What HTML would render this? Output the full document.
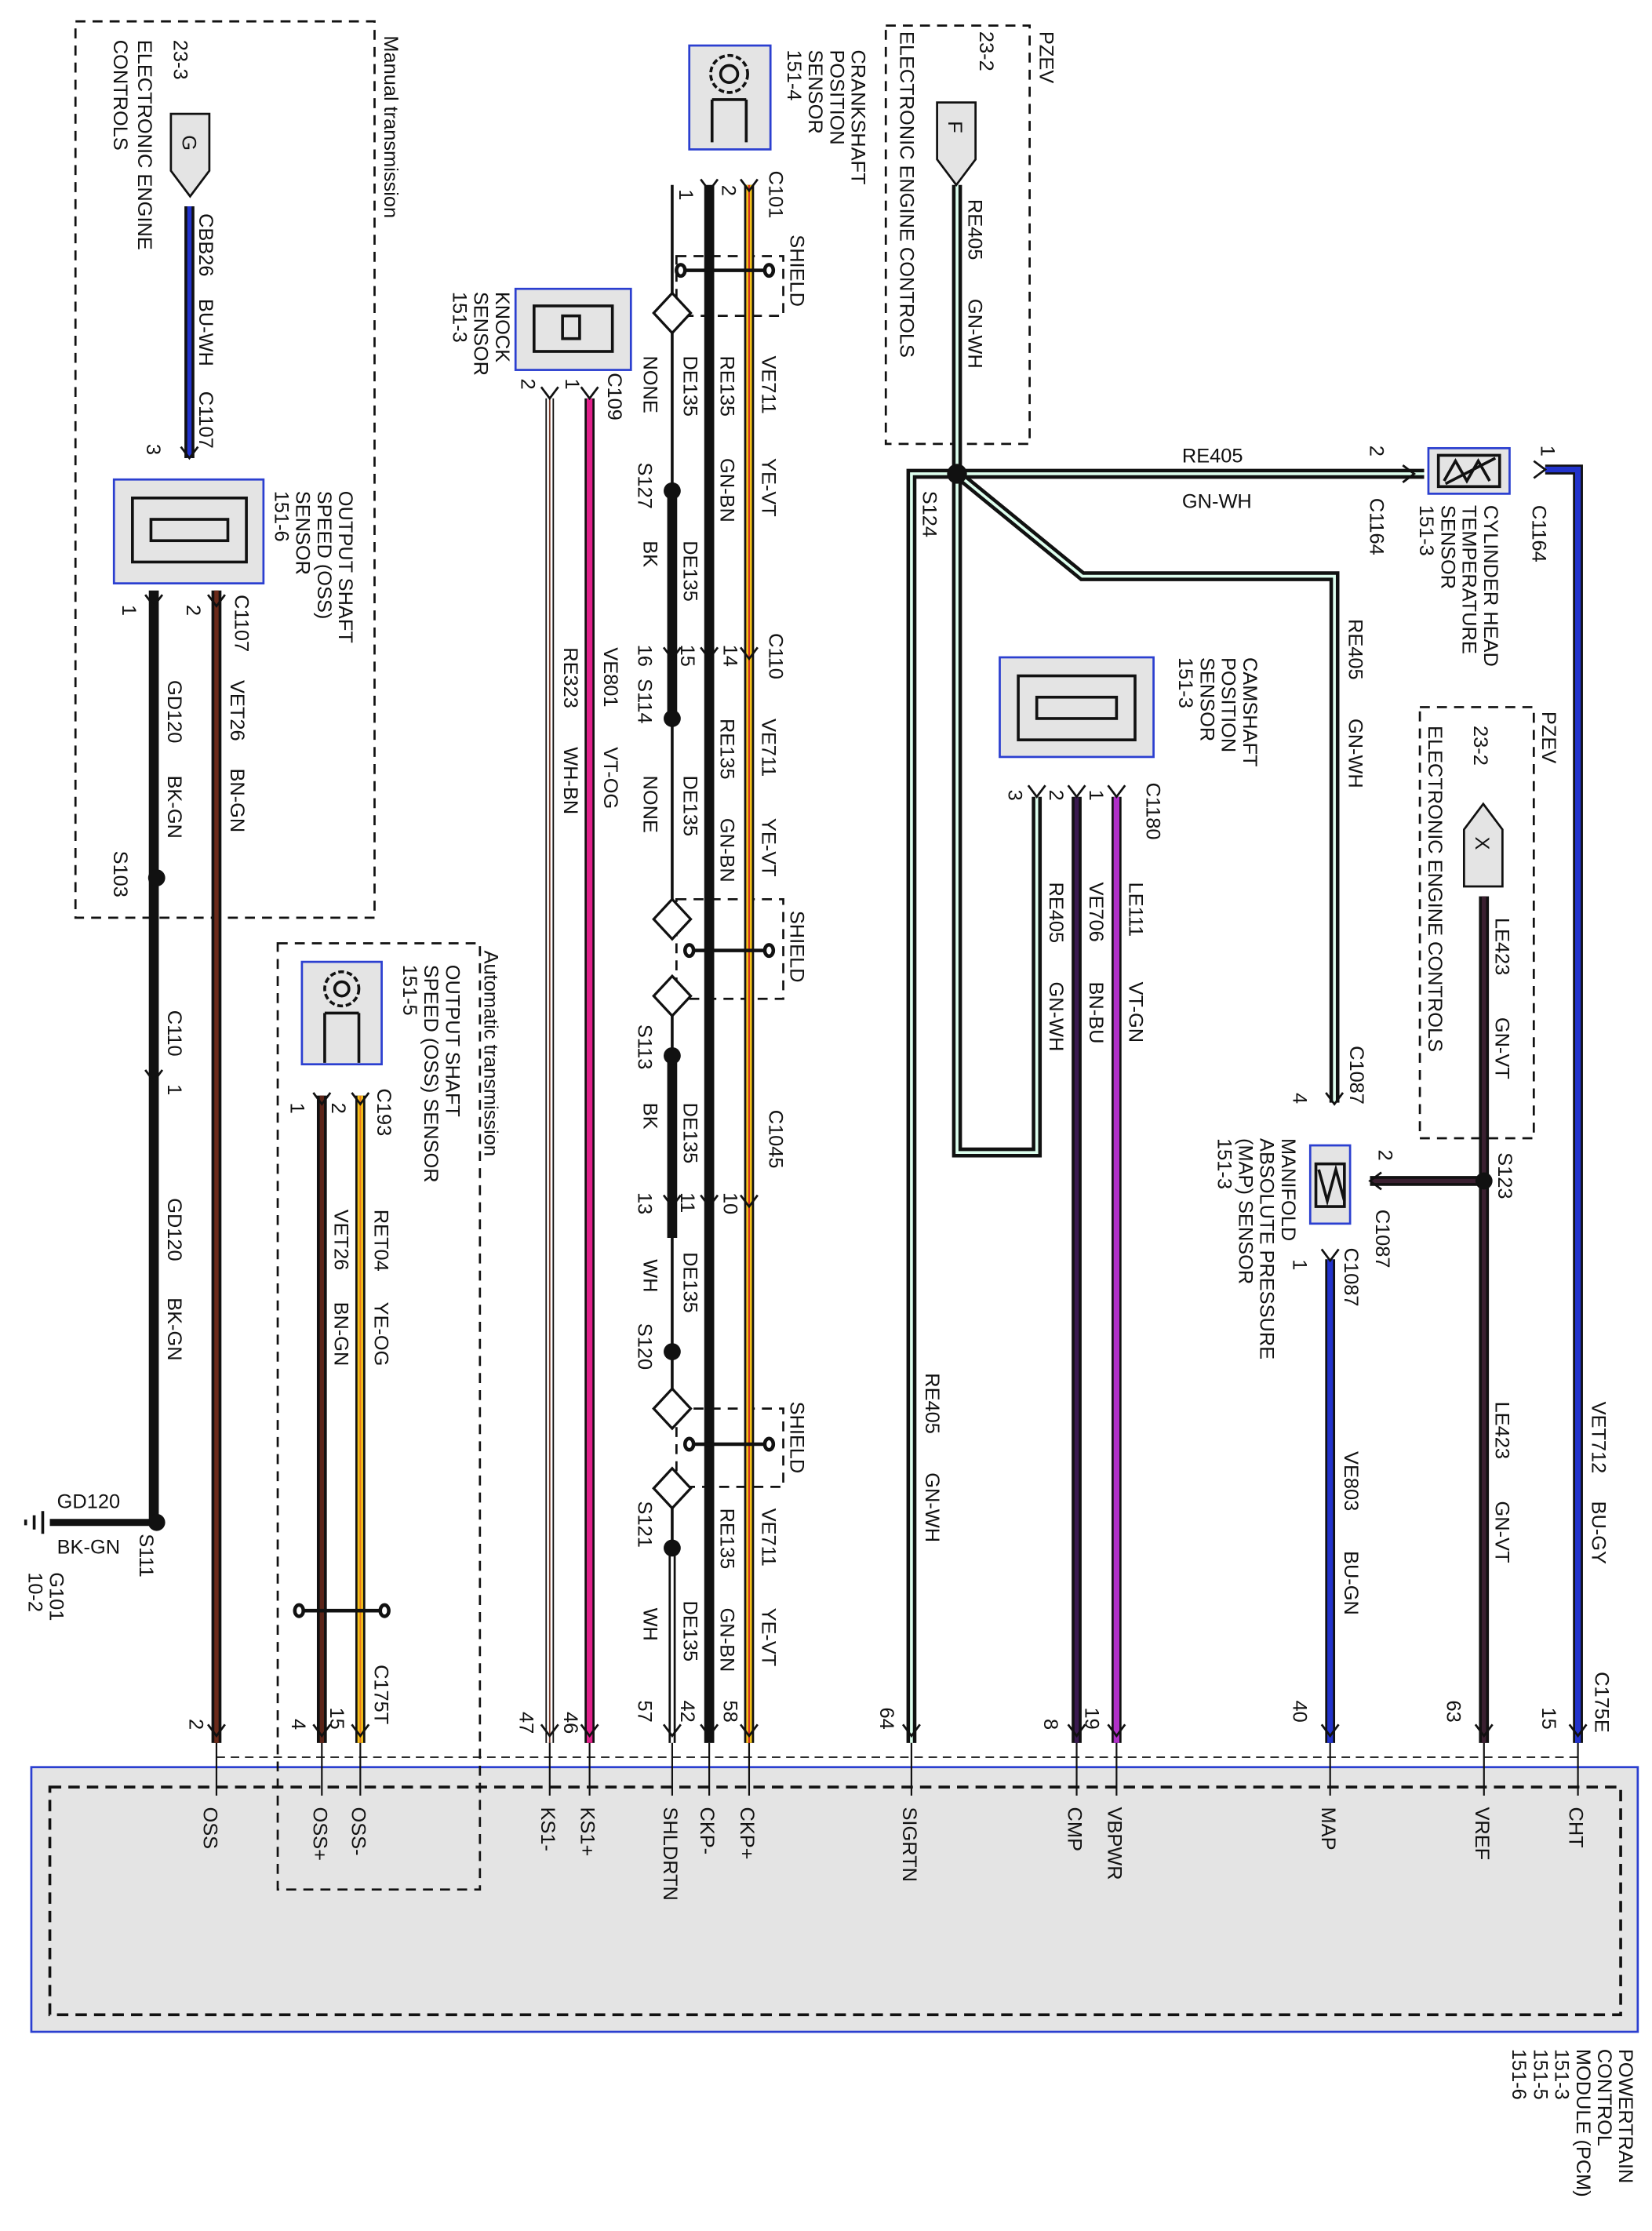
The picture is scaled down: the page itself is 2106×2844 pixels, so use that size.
<!DOCTYPE html>
<html><head><meta charset="utf-8"><style>
html,body{margin:0;padding:0;background:#fff}
svg{display:block}
text{font-family:"Liberation Sans Narrow","Liberation Sans",sans-serif;font-size:14px;fill:#111}
</style></head><body>
<svg width="2106" height="2844" viewBox="0 0 1160 1568" preserveAspectRatio="none" xmlns="http://www.w3.org/2000/svg">
<rect width="1160" height="1568" fill="#fff"/>
<rect x="22" y="1242" width="1128" height="186" fill="#e4e4e4" stroke="#2b3fd0" stroke-width="1.5"/>
<rect x="35" y="1256" width="1103" height="160" fill="none" stroke="#111" stroke-width="2" stroke-dasharray="8,5"/>
<line x1="152" y1="1235" x2="1108" y2="1235" stroke="#111" stroke-width="1" stroke-dasharray="6,4"/>
<g fill="none" stroke="#111" stroke-width="1.5" stroke-dasharray="7,5">
<rect x="53" y="15" width="210" height="630"/>
<rect x="195" y="663" width="142" height="665"/>
<rect x="622" y="18" width="101" height="294"/>
<rect x="997" y="497" width="80" height="303"/>
<rect x="475" y="180" width="75" height="42"/>
<rect x="475" y="632" width="75" height="70"/>
<rect x="475" y="990" width="75" height="55"/>
</g>
<g fill="none" stroke-linejoin="miter">
<g stroke="#111" stroke-width="7">
<line x1="133" y1="145" x2="133" y2="322"/>
<line x1="152" y1="415" x2="152" y2="1225"/>
<line x1="226" y1="770" x2="226" y2="1225"/>
<line x1="253" y1="770" x2="253" y2="1225"/>
<line x1="414" y1="280" x2="414" y2="1225"/>
<line x1="498" y1="130" x2="498" y2="1225"/>
<line x1="526" y1="130" x2="526" y2="1225"/>
<polyline points="672,130 672,333 1000,333"/>
<polyline points="672,333 640,333 640,1225"/>
<polyline points="672,333 672,810 728,810 728,560"/>
<polyline points="672,333 760,405 937,405 937,775"/>
<line x1="756" y1="560" x2="756" y2="1225"/>
<line x1="784" y1="560" x2="784" y2="1225"/>
<line x1="934" y1="885" x2="934" y2="1225"/>
<line x1="1042" y1="630" x2="1042" y2="1225"/>
<polyline points="1085,330 1108,330 1108,1225"/>
<line x1="962" y1="830" x2="1042" y2="830"/>
</g>
<line x1="133" y1="145" x2="133" y2="322" stroke="#2233cc" stroke-width="3"/>
<line x1="152" y1="415" x2="152" y2="1225" stroke="#6b2a1a" stroke-width="3"/>
<line x1="226" y1="770" x2="226" y2="1225" stroke="#5a2418" stroke-width="3"/>
<line x1="253" y1="770" x2="253" y2="1225" stroke="#f2c21b" stroke-width="4"/>
<line x1="253" y1="770" x2="253" y2="1225" stroke="#e8761a" stroke-width="1"/>
<line x1="386" y1="280" x2="386" y2="1225" stroke="#111" stroke-width="6"/>
<line x1="386" y1="280" x2="386" y2="1225" stroke="#fff" stroke-width="4"/>
<line x1="386" y1="280" x2="386" y2="1225" stroke="#7a3a2a" stroke-width="1"/>
<line x1="414" y1="280" x2="414" y2="1225" stroke="#e0208a" stroke-width="4"/>
<line x1="526" y1="130" x2="526" y2="1225" stroke="#f2c21b" stroke-width="4"/>
<line x1="526" y1="130" x2="526" y2="1225" stroke="#d02020" stroke-width="1"/>
<g stroke="#dfe" stroke-width="2">
<polyline points="672,130 672,333 1000,333"/>
<polyline points="672,333 640,333 640,1225"/>
<polyline points="672,333 672,810 728,810 728,560"/>
<polyline points="672,333 760,405 937,405 937,775"/>
</g>
<line x1="756" y1="560" x2="756" y2="1225" stroke="#3a1a50" stroke-width="3"/>
<line x1="784" y1="560" x2="784" y2="1225" stroke="#b030c8" stroke-width="4"/>
<line x1="934" y1="885" x2="934" y2="1225" stroke="#2233cc" stroke-width="4"/>
<line x1="1042" y1="630" x2="1042" y2="1225" stroke="#3a2030" stroke-width="3"/>
<line x1="962" y1="830" x2="1042" y2="830" stroke="#3a2030" stroke-width="3"/>
<polyline points="1085,330 1108,330 1108,1225" stroke="#2233cc" stroke-width="4"/>
<line x1="108" y1="415" x2="108" y2="1070" stroke="#111" stroke-width="7"/>
<line x1="35" y1="1070" x2="108" y2="1070" stroke="#111" stroke-width="5"/>
<g stroke="#111">
<line x1="472" y1="130" x2="472" y2="208" stroke-width="2"/>
<line x1="472" y1="232" x2="472" y2="345" stroke-width="2"/>
<line x1="472" y1="345" x2="472" y2="505" stroke-width="7"/>
<line x1="472" y1="505" x2="472" y2="632" stroke-width="2"/>
<line x1="472" y1="712" x2="472" y2="742" stroke-width="2"/>
<line x1="472" y1="742" x2="472" y2="870" stroke-width="7"/>
<line x1="472" y1="870" x2="472" y2="978" stroke-width="2"/>
<line x1="472" y1="1057" x2="472" y2="1090" stroke-width="2"/>
<line x1="472" y1="1090" x2="472" y2="1225" stroke-width="5"/>
</g>
<line x1="472" y1="1092" x2="472" y2="1225" stroke="#fff" stroke-width="2"/>
</g>
<g stroke="#111" stroke-width="1.2">
<line x1="152" y1="1225" x2="152" y2="1262"/><line x1="226" y1="1225" x2="226" y2="1262"/><line x1="253" y1="1225" x2="253" y2="1262"/>
<line x1="386" y1="1225" x2="386" y2="1262"/><line x1="414" y1="1225" x2="414" y2="1262"/><line x1="472" y1="1225" x2="472" y2="1262"/>
<line x1="498" y1="1225" x2="498" y2="1262"/><line x1="526" y1="1225" x2="526" y2="1262"/><line x1="640" y1="1225" x2="640" y2="1262"/>
<line x1="756" y1="1225" x2="756" y2="1262"/><line x1="784" y1="1225" x2="784" y2="1262"/><line x1="934" y1="1225" x2="934" y2="1262"/>
<line x1="1042" y1="1225" x2="1042" y2="1262"/><line x1="1108" y1="1225" x2="1108" y2="1262"/>
</g>
<g fill="none" stroke="#111" stroke-width="1.5">
<path d="M146,1212 l6,8 l6,-8 M220,1212 l6,8 l6,-8 M247,1212 l6,8 l6,-8 M380,1212 l6,8 l6,-8 M408,1212 l6,8 l6,-8 M466,1212 l6,8 l6,-8 M492,1212 l6,8 l6,-8 M520,1212 l6,8 l6,-8 M634,1212 l6,8 l6,-8 M750,1212 l6,8 l6,-8 M778,1212 l6,8 l6,-8 M928,1212 l6,8 l6,-8 M1036,1212 l6,8 l6,-8 M1102,1212 l6,8 l6,-8"/>
<path d="M127,314 l6,8 l6,-8 M102,418 l6,8 l6,-8 M146,418 l6,8 l6,-8 M102,752 l6,8 l6,-8 M220,768 l6,8 l6,-8 M247,768 l6,8 l6,-8 M380,272 l6,8 l6,-8 M408,272 l6,8 l6,-8 M492,126 l6,8 l6,-8 M520,126 l6,8 l6,-8 M466,455 l6,8 l6,-8 M492,455 l6,8 l6,-8 M520,455 l6,8 l6,-8 M466,840 l6,8 l6,-8 M492,840 l6,8 l6,-8 M520,840 l6,8 l6,-8 M722,552 l6,8 l6,-8 M750,552 l6,8 l6,-8 M778,552 l6,8 l6,-8 M931,768 l6,8 l6,-8 M928,878 l6,8 l6,-8 M970,824 l-8,6 l8,6 M985,327 l8,6 l-8,6 M1077,324 l8,6 l-8,6"/>
</g>
<g fill="#111">
<circle cx="110" cy="617" r="6"/><circle cx="110" cy="1070" r="6"/>
<circle cx="472" cy="345" r="6"/><circle cx="472" cy="505" r="6"/><circle cx="472" cy="742" r="6"/><circle cx="472" cy="950" r="6"/><circle cx="472" cy="1088" r="6"/>
<circle cx="672" cy="333" r="7"/><circle cx="1042" cy="830" r="6"/>
</g>
<g fill="#fff" stroke="#111" stroke-width="1.8">
<path d="M472,206 l13,14 l-13,14 l-13,-14z"/><path d="M472,632 l13,14 l-13,14 l-13,-14z"/><path d="M472,686 l13,14 l-13,14 l-13,-14z"/>
<path d="M472,976 l13,14 l-13,14 l-13,-14z"/><path d="M472,1032 l13,14 l-13,14 l-13,-14z"/>
</g>
<g stroke="#111" stroke-width="2.5" fill="#fff">
<line x1="478" y1="190" x2="540" y2="190"/><ellipse cx="478" cy="190" rx="3" ry="4"/><ellipse cx="540" cy="190" rx="3" ry="4"/>
<line x1="484" y1="668" x2="540" y2="668"/><ellipse cx="484" cy="668" rx="3" ry="4"/><ellipse cx="540" cy="668" rx="3" ry="4"/>
<line x1="484" y1="1015" x2="540" y2="1015"/><ellipse cx="484" cy="1015" rx="3" ry="4"/><ellipse cx="540" cy="1015" rx="3" ry="4"/>
<line x1="210" y1="1132" x2="270" y2="1132"/><ellipse cx="210" cy="1132" rx="3" ry="4"/><ellipse cx="270" cy="1132" rx="3" ry="4"/>
</g>
<g fill="#e4e4e4" stroke="#111" stroke-width="1.5">
<path d="M120,80 h27 v40 l-13.5,18 l-13.5,-18z"/>
<path d="M658,72 h27 v40 l-13.5,18 l-13.5,-18z"/>
<path d="M1028,565 h27 v40 l-13.5,18 l-13.5,-18z" transform="rotate(180,1041.5,594)"/>
</g>
<g stroke="#2b3fd0" stroke-width="1.5" fill="#e4e4e4">
<rect x="80" y="337" width="105" height="73"/>
<rect x="362" y="203" width="81" height="57"/>
<rect x="484" y="32" width="57" height="73"/>
<rect x="212" y="676" width="56" height="72"/>
<rect x="702" y="462" width="108" height="70"/>
<rect x="1003" y="315" width="57" height="32"/>
<rect x="920" y="805" width="28" height="55"/>
</g>
<g fill="none" stroke="#111" stroke-width="2">
<rect x="93" y="350" width="80" height="45"/><rect x="106" y="365" width="54" height="15"/>
<rect x="375" y="215" width="55" height="32"/><rect x="395" y="222" width="12" height="16"/>
<circle cx="512" cy="52" r="13" stroke-dasharray="4,2"/><circle cx="512" cy="52" r="6"/><path d="M500,70 v30 M524,70 v30 M500,70 h24"/>
<circle cx="240" cy="695" r="12" stroke-dasharray="4,2"/><circle cx="240" cy="695" r="5"/><path d="M228,712 v35 M252,712 v35 M228,712 h24"/>
<rect x="715" y="475" width="82" height="45"/><rect x="728" y="490" width="56" height="15"/>
<rect x="1010" y="320" width="43" height="22"/><path d="M1014,338 l8,-14 l8,14 l8,-14 l8,14 M1015,340 l35,-18"/>
<rect x="924" y="818" width="20" height="30"/><path d="M926,822 l6,22 l6,-22 l6,22"/>
</g>
<path d="M30,1062 v16 M24,1065 v10 M18,1068 v4" stroke="#111" stroke-width="2"/>
<text x="40" y="1060">GD120</text><text x="40" y="1092">BK-GN</text>
<text x="830" y="325">RE405</text><text x="830" y="357">GN-WH</text>
<g>
<text transform="translate(270,25) rotate(90)">Manual transmission</text>
<text transform="translate(122,28) rotate(90)">23-3</text>
<text transform="translate(97,28) rotate(90)">ELECTRONIC ENGINE</text>
<text transform="translate(80,28) rotate(90)">CONTROLS</text>
<text transform="translate(128,95) rotate(90)">G</text>
<text transform="translate(140,150) rotate(90)">CBB26</text>
<text transform="translate(140,210) rotate(90)">BU-WH</text>
<text transform="translate(140,275) rotate(90)">C1107</text>
<text transform="translate(103,312) rotate(90)">3</text>
<text transform="translate(238,345) rotate(90)">OUTPUT SHAFT</text>
<text transform="translate(223,345) rotate(90)">SPEED (OSS)</text>
<text transform="translate(208,345) rotate(90)">SENSOR</text>
<text transform="translate(193,345) rotate(90)">151-6</text>
<text transform="translate(165,418) rotate(90)">C1107</text>
<text transform="translate(131,425) rotate(90)">2</text>
<text transform="translate(86,425) rotate(90)">1</text>
<text transform="translate(162,478) rotate(90)">VET26</text>
<text transform="translate(162,540) rotate(90)">BN-GN</text>
<text transform="translate(118,478) rotate(90)">GD120</text>
<text transform="translate(118,545) rotate(90)">BK-GN</text>
<text transform="translate(80,598) rotate(90)">S103</text>
<text transform="translate(118,710) rotate(90)">C110</text>
<text transform="translate(118,762) rotate(90)">1</text>
<text transform="translate(118,842) rotate(90)">GD120</text>
<text transform="translate(118,912) rotate(90)">BK-GN</text>
<text transform="translate(98,1078) rotate(90)">S111</text>
<text transform="translate(35,1105) rotate(90)">G101</text>
<text transform="translate(20,1105) rotate(90)">10-2</text>
<text transform="translate(133,1208) rotate(90)">2</text>
<text transform="translate(340,668) rotate(90)">Automatic transmission</text>
<text transform="translate(313,678) rotate(90)">OUTPUT SHAFT</text>
<text transform="translate(298,678) rotate(90)">SPEED (OSS)  SENSOR</text>
<text transform="translate(283,678) rotate(90)">151-5</text>
<text transform="translate(265,765) rotate(90)">C193</text>
<text transform="translate(204,775) rotate(90)">1</text>
<text transform="translate(233,775) rotate(90)">2</text>
<text transform="translate(263,850) rotate(90)">RET04</text>
<text transform="translate(263,915) rotate(90)">YE-OG</text>
<text transform="translate(235,850) rotate(90)">VET26</text>
<text transform="translate(235,915) rotate(90)">BN-GN</text>
<text transform="translate(263,1170) rotate(90)">C175T</text>
<text transform="translate(205,1208) rotate(90)">4</text>
<text transform="translate(232,1200) rotate(90)">15</text>
<text transform="translate(348,205) rotate(90)">KNOCK</text>
<text transform="translate(333,205) rotate(90)">SENSOR</text>
<text transform="translate(318,205) rotate(90)">151-3</text>
<text transform="translate(427,262) rotate(90)">C109</text>
<text transform="translate(366,266) rotate(90)">2</text>
<text transform="translate(397,266) rotate(90)">1</text>
<text transform="translate(396,455) rotate(90)">RE323</text>
<text transform="translate(396,525) rotate(90)">WH-BN</text>
<text transform="translate(424,455) rotate(90)">VE801</text>
<text transform="translate(424,525) rotate(90)">VT-OG</text>
<text transform="translate(365,1203) rotate(90)">47</text>
<text transform="translate(396,1203) rotate(90)">46</text>
<text transform="translate(598,35) rotate(90)">CRANKSHAFT</text>
<text transform="translate(583,35) rotate(90)">POSITION</text>
<text transform="translate(568,35) rotate(90)">SENSOR</text>
<text transform="translate(553,35) rotate(90)">151-4</text>
<text transform="translate(540,120) rotate(90)">C101</text>
<text transform="translate(477,133) rotate(90)">1</text>
<text transform="translate(507,130) rotate(90)">2</text>
<text transform="translate(555,165) rotate(90)">SHIELD</text>
<text transform="translate(452,250) rotate(90)">NONE</text>
<text transform="translate(480,250) rotate(90)">DE135</text>
<text transform="translate(506,250) rotate(90)">RE135</text>
<text transform="translate(506,322) rotate(90)">GN-BN</text>
<text transform="translate(535,250) rotate(90)">VE711</text>
<text transform="translate(535,322) rotate(90)">YE-VT</text>
<text transform="translate(448,325) rotate(90)">S127</text>
<text transform="translate(452,380) rotate(90)">BK</text>
<text transform="translate(480,380) rotate(90)">DE135</text>
<text transform="translate(540,445) rotate(90)">C110</text>
<text transform="translate(448,453) rotate(90)">16</text>
<text transform="translate(448,477) rotate(90)">S114</text>
<text transform="translate(478,453) rotate(90)">15</text>
<text transform="translate(508,453) rotate(90)">14</text>
<text transform="translate(506,505) rotate(90)">RE135</text>
<text transform="translate(535,505) rotate(90)">VE711</text>
<text transform="translate(452,545) rotate(90)">NONE</text>
<text transform="translate(480,545) rotate(90)">DE135</text>
<text transform="translate(506,575) rotate(90)">GN-BN</text>
<text transform="translate(535,575) rotate(90)">YE-VT</text>
<text transform="translate(555,640) rotate(90)">SHIELD</text>
<text transform="translate(448,720) rotate(90)">S113</text>
<text transform="translate(452,775) rotate(90)">BK</text>
<text transform="translate(480,775) rotate(90)">DE135</text>
<text transform="translate(540,780) rotate(90)">C1045</text>
<text transform="translate(448,838) rotate(90)">13</text>
<text transform="translate(478,838) rotate(90)">11</text>
<text transform="translate(508,838) rotate(90)">10</text>
<text transform="translate(452,885) rotate(90)">WH</text>
<text transform="translate(480,880) rotate(90)">DE135</text>
<text transform="translate(448,930) rotate(90)">S120</text>
<text transform="translate(555,985) rotate(90)">SHIELD</text>
<text transform="translate(535,1060) rotate(90)">VE711</text>
<text transform="translate(506,1060) rotate(90)">RE135</text>
<text transform="translate(448,1055) rotate(90)">S121</text>
<text transform="translate(452,1130) rotate(90)">WH</text>
<text transform="translate(480,1125) rotate(90)">DE135</text>
<text transform="translate(506,1130) rotate(90)">GN-BN</text>
<text transform="translate(535,1130) rotate(90)">YE-VT</text>
<text transform="translate(448,1195) rotate(90)">57</text>
<text transform="translate(478,1195) rotate(90)">42</text>
<text transform="translate(508,1195) rotate(90)">58</text>
<text transform="translate(730,22) rotate(90)">PZEV</text>
<text transform="translate(688,22) rotate(90)">23-2</text>
<text transform="translate(632,22) rotate(90)">ELECTRONIC ENGINE CONTROLS</text>
<text transform="translate(666,85) rotate(90)">F</text>
<text transform="translate(680,140) rotate(90)">RE405</text>
<text transform="translate(680,210) rotate(90)">GN-WH</text>
<text transform="translate(648,345) rotate(90)">S124</text>
<text transform="translate(1082,313) rotate(90)">1</text>
<text transform="translate(1076,355) rotate(90)">C1164</text>
<text transform="translate(962,313) rotate(90)">2</text>
<text transform="translate(962,350) rotate(90)">C1164</text>
<text transform="translate(1042,355) rotate(90)">CYLINDER HEAD</text>
<text transform="translate(1027,355) rotate(90)">TEMPERATURE</text>
<text transform="translate(1012,355) rotate(90)">SENSOR</text>
<text transform="translate(997,355) rotate(90)">151-3</text>
<text transform="translate(947,435) rotate(90)">RE405</text>
<text transform="translate(947,505) rotate(90)">GN-WH</text>
<text transform="translate(873,462) rotate(90)">CAMSHAFT</text>
<text transform="translate(858,462) rotate(90)">POSITION</text>
<text transform="translate(843,462) rotate(90)">SENSOR</text>
<text transform="translate(828,462) rotate(90)">151-3</text>
<text transform="translate(805,550) rotate(90)">C1180</text>
<text transform="translate(708,555) rotate(90)">3</text>
<text transform="translate(737,555) rotate(90)">2</text>
<text transform="translate(765,555) rotate(90)">1</text>
<text transform="translate(793,620) rotate(90)">LE111</text>
<text transform="translate(793,690) rotate(90)">VT-GN</text>
<text transform="translate(765,620) rotate(90)">VE706</text>
<text transform="translate(765,690) rotate(90)">BN-BU</text>
<text transform="translate(737,620) rotate(90)">RE405</text>
<text transform="translate(737,690) rotate(90)">GN-WH</text>
<text transform="translate(733,1208) rotate(90)">8</text>
<text transform="translate(762,1200) rotate(90)">19</text>
<text transform="translate(618,1200) rotate(90)">64</text>
<text transform="translate(650,965) rotate(90)">RE405</text>
<text transform="translate(650,1035) rotate(90)">GN-WH</text>
<text transform="translate(1083,500) rotate(90)">PZEV</text>
<text transform="translate(1035,510) rotate(90)">23-2</text>
<text transform="translate(1003,510) rotate(90)">ELECTRONIC ENGINE CONTROLS</text>
<text transform="translate(1036,588) rotate(90)">X</text>
<text transform="translate(1050,645) rotate(90)">LE423</text>
<text transform="translate(1050,715) rotate(90)">GN-VT</text>
<text transform="translate(1052,810) rotate(90)">S123</text>
<text transform="translate(948,735) rotate(90)">C1087</text>
<text transform="translate(908,768) rotate(90)">4</text>
<text transform="translate(968,808) rotate(90)">2</text>
<text transform="translate(966,850) rotate(90)">C1087</text>
<text transform="translate(908,885) rotate(90)">1</text>
<text transform="translate(944,877) rotate(90)">C1087</text>
<text transform="translate(900,800) rotate(90)">MANIFOLD</text>
<text transform="translate(885,800) rotate(90)">ABSOLUTE PRESSURE</text>
<text transform="translate(870,800) rotate(90)">(MAP) SENSOR</text>
<text transform="translate(855,800) rotate(90)">151-3</text>
<text transform="translate(944,1020) rotate(90)">VE803</text>
<text transform="translate(944,1090) rotate(90)">BU-GN</text>
<text transform="translate(908,1195) rotate(90)">40</text>
<text transform="translate(1050,985) rotate(90)">LE423</text>
<text transform="translate(1050,1055) rotate(90)">GN-VT</text>
<text transform="translate(1016,1195) rotate(90)">63</text>
<text transform="translate(1118,985) rotate(90)">VET712</text>
<text transform="translate(1118,1055) rotate(90)">BU-GY</text>
<text transform="translate(1083,1200) rotate(90)">15</text>
<text transform="translate(1120,1175) rotate(90)">C175E</text>
<text transform="translate(143,1270) rotate(90)">OSS</text>
<text transform="translate(220,1270) rotate(90)">OSS+</text>
<text transform="translate(247,1270) rotate(90)">OSS-</text>
<text transform="translate(380,1270) rotate(90)">KS1-</text>
<text transform="translate(408,1270) rotate(90)">KS1+</text>
<text transform="translate(466,1270) rotate(90)">SHLDRTN</text>
<text transform="translate(492,1270) rotate(90)">CKP-</text>
<text transform="translate(520,1270) rotate(90)">CKP+</text>
<text transform="translate(634,1270) rotate(90)">SIGRTN</text>
<text transform="translate(750,1270) rotate(90)">CMP</text>
<text transform="translate(778,1270) rotate(90)">VBPWR</text>
<text transform="translate(928,1270) rotate(90)">MAP</text>
<text transform="translate(1036,1270) rotate(90)">VREF</text>
<text transform="translate(1102,1270) rotate(90)">CHT</text>
<text transform="translate(1137,1440) rotate(90)">POWERTRAIN</text>
<text transform="translate(1122,1440) rotate(90)">CONTROL</text>
<text transform="translate(1107,1440) rotate(90)">MODULE (PCM)</text>
<text transform="translate(1092,1440) rotate(90)">151-3</text>
<text transform="translate(1077,1440) rotate(90)">151-5</text>
<text transform="translate(1062,1440) rotate(90)">151-6</text>
</g>
</svg>
</body></html>
